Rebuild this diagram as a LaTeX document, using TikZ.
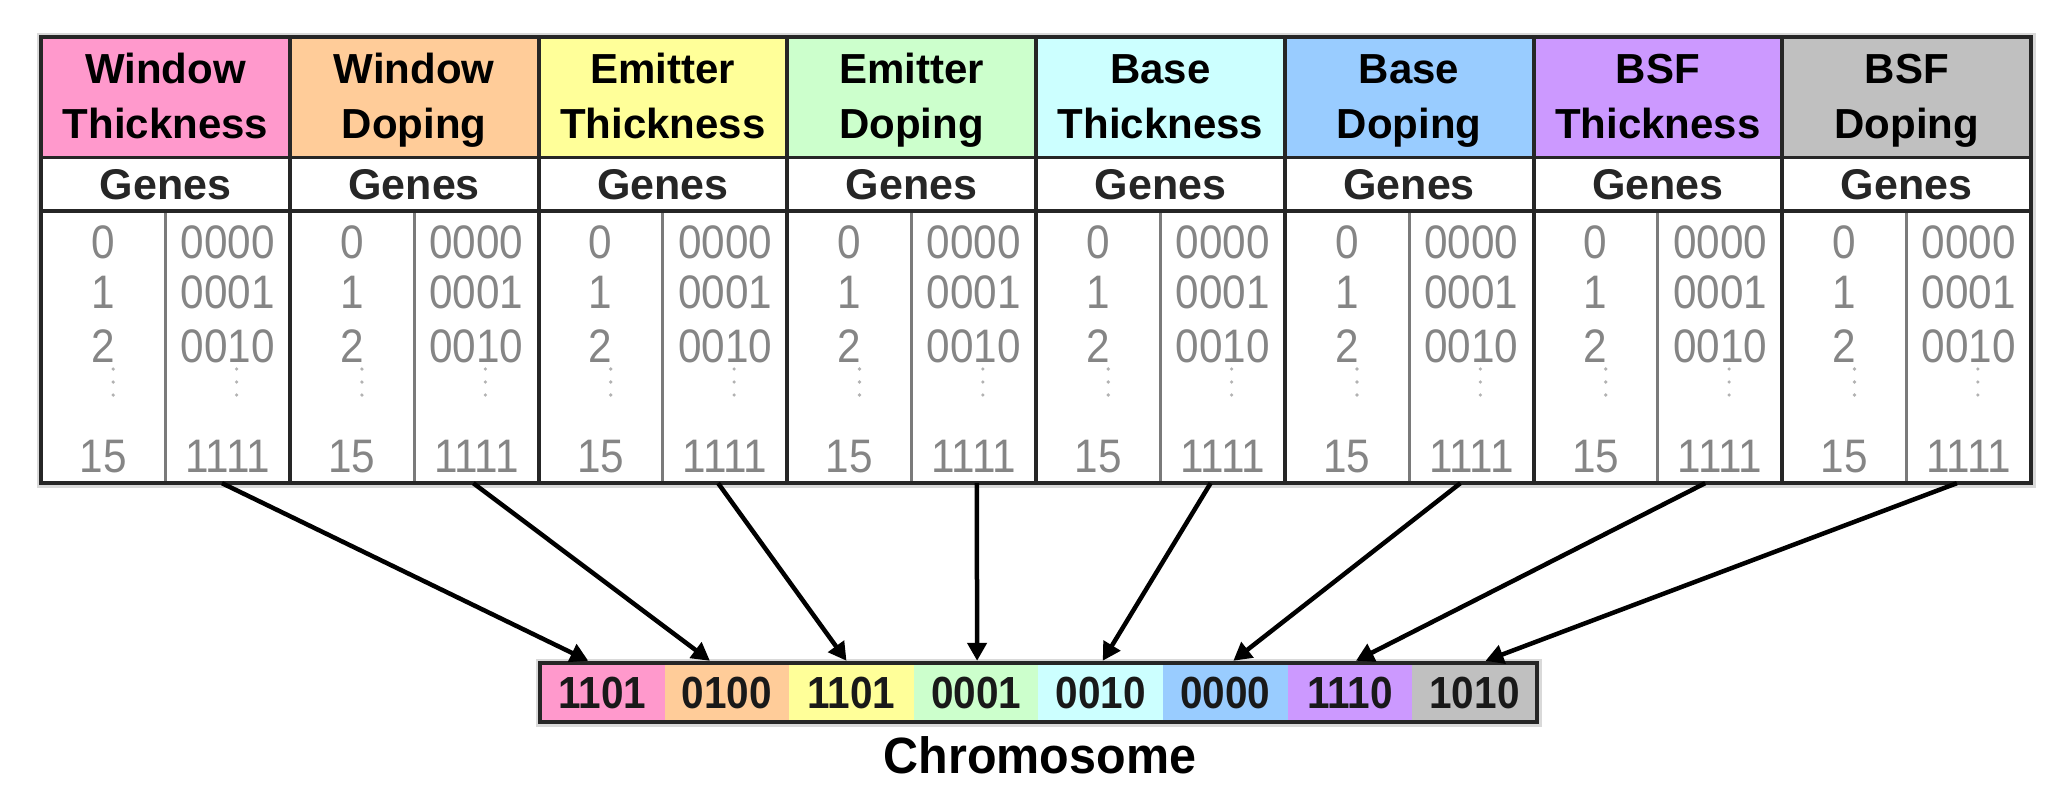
\documentclass[tikz,border=0pt]{standalone}
\usepackage{fontspec}
\setmainfont{Liberation Sans}
\newfontfamily\digitfont{Liberation Sans}[FakeStretch=0.9]
\newfontfamily\labelfont{Liberation Sans}[FakeStretch=0.95]
\usetikzlibrary{arrows.meta}
\definecolor{cA}{HTML}{FF99CC}
\definecolor{cB}{HTML}{FFCC99}
\definecolor{cC}{HTML}{FFFF99}
\definecolor{cD}{HTML}{CCFFCC}
\definecolor{cE}{HTML}{CCFFFF}
\definecolor{cF}{HTML}{99CCFF}
\definecolor{cG}{HTML}{CC99FF}
\definecolor{cH}{HTML}{C0C0C0}
\definecolor{borderdark}{HTML}{262626}
\definecolor{dividergray}{HTML}{7A7A7A}
\definecolor{digitgray}{HTML}{858585}
\definecolor{halo}{HTML}{D9D9D9}
\tikzset{
  headtext/.style={anchor=base, inner sep=0pt, font=\fontsize{42}{46}\selectfont\bfseries, text=black},
  genestext/.style={anchor=base, inner sep=0pt, font=\fontsize{43}{46}\selectfont\bfseries, text=black!85},
  numtext/.style={anchor=base, inner sep=0pt, font=\digitfont\fontsize{47}{50}\selectfont, text=digitgray},
  datacell/.style={minimum width=124pt, minimum height=272pt, inner sep=0pt},
  chromseg/.style={minimum width=124.6pt, minimum height=59pt, inner sep=0pt, font=\digitfont\fontsize{45}{50}\selectfont\bfseries, text=black!90},
  outerline/.style={draw=borderdark, line width=4.5pt},
  colline/.style={draw=borderdark, line width=4pt},
  rowline/.style={draw=borderdark, line width=3pt},
  subline/.style={draw=dividergray, line width=3pt},
  dotmark/.style={fill=black!30, draw=none},
  genearrow/.style={draw=black, line width=4.5pt, -{Triangle[length=18pt,width=19pt]}},
}
\begin{document}
\begin{tikzpicture}[x=1pt,y=-1pt]
\useasboundingbox (0,0) rectangle (2068,806);
\fill[white] (0,0) rectangle (2068,806);
% halo shadows
\draw[halo, line width=9pt] (41,37) rectangle (2031,483);
\draw[halo, line width=9pt] (540,663) rectangle (1537,722);
% columns
\foreach \i/\col/\ta/\tb in {0/cA/Window/Thickness,1/cB/Window/Doping,2/cC/Emitter/Thickness,3/cD/Emitter/Doping,4/cE/Base/Thickness,5/cF/Base/Doping,6/cG/BSF/Thickness,7/cH/BSF/Doping}{
  \pgfmathsetmacro{\xl}{41+\i*248.75}
  \pgfmathsetmacro{\xc}{\xl+124.4}
  \pgfmathsetmacro{\xn}{\xl+62.2}
  \pgfmathsetmacro{\xb}{\xl+186.6}
  \pgfmathtruncatemacro{\k}{\i+1}
  \fill[\col] (\xl,37) rectangle (\xl+248.75,157);
  \fill[white] (\xl,157) rectangle (\xl+248.75,483);
  \node[headtext] (ha\k) at (\xc,83) {\ta};
  \node[headtext] (hb\k) at (\xc,138) {\tb};
  \node[genestext] (g\k) at (\xc,199) {Genes};
  \node[datacell] (num\k) at (\xn,347) {};
  \node[datacell] (bin\k) at (\xb,347) {};
  \node[numtext] (n0\k) at (\xn,258) {0};
  \node[numtext] (n1\k) at (\xn,308) {1};
  \node[numtext] (n2\k) at (\xn,362) {2};
  \node[numtext] (n15\k) at (\xn,472) {15};
  \node[numtext] (b0\k) at (\xb,258) {0000};
  \node[numtext] (b1\k) at (\xb,308) {0001};
  \node[numtext] (b2\k) at (\xb,362) {0010};
  \node[numtext] (b15\k) at (\xb,472) {1111};
  \foreach \yy in {369,382,395}{
    \fill[dotmark] (\xn+10,\yy) circle (1.8);
    \fill[dotmark] (\xb+9,\yy) circle (1.8);
  }
  \draw[subline] (\xl+124.4,211) -- (\xl+124.4,483);
}
% row and column lines
\draw[rowline] (41,157) -- (2031,157);
\draw[colline] (41,211) -- (2031,211);
\foreach \i in {1,...,7}{
  \draw[colline] (41+\i*248.75,37) -- (41+\i*248.75,483);
}
\draw[outerline] (41,37) rectangle (2031,483);
% chromosome
\foreach \i/\col/\v in {0/cA/1101,1/cB/0100,2/cC/1101,3/cD/0001,4/cE/0010,5/cF/0000,6/cG/1110,7/cH/1010}{
  \pgfmathtruncatemacro{\k}{\i+1}
  \node[chromseg, fill=\col] (c\k) at (602.3+\i*124.6,692.5) {\v};
}
\draw[outerline] (540,663) rectangle (1537,722);
\node[anchor=base, inner sep=0pt, font=\labelfont\fontsize{51}{55}\selectfont\bfseries] (chrom) at (1040,773) {Chromosome};
% arrows
\draw[genearrow] ([xshift=-5.6pt]bin1.south) -- ([xshift=-14pt,yshift=2pt]c1.north);
\draw[genearrow] ([xshift=-3pt]bin2.south) -- ([xshift=-17pt,yshift=2pt]c2.north);
\draw[genearrow] ([xshift=-7pt]bin3.south) -- ([xshift=-5pt,yshift=2pt]c3.north);
\draw[genearrow] ([xshift=3pt]bin4.south) -- ([xshift=1pt,yshift=2pt]c4.north);
\draw[genearrow] ([xshift=-12pt]bin5.south) -- ([xshift=2pt,yshift=2pt]c5.north);
\draw[genearrow] ([xshift=-11pt]bin6.south) -- ([xshift=8pt,yshift=2pt]c6.north);
\draw[genearrow] ([xshift=-15pt]bin7.south) -- ([xshift=6pt,yshift=2pt]c7.north);
\draw[genearrow] ([xshift=-12pt]bin8.south) -- ([xshift=11pt,yshift=2pt]c8.north);
\end{tikzpicture}
\end{document}
